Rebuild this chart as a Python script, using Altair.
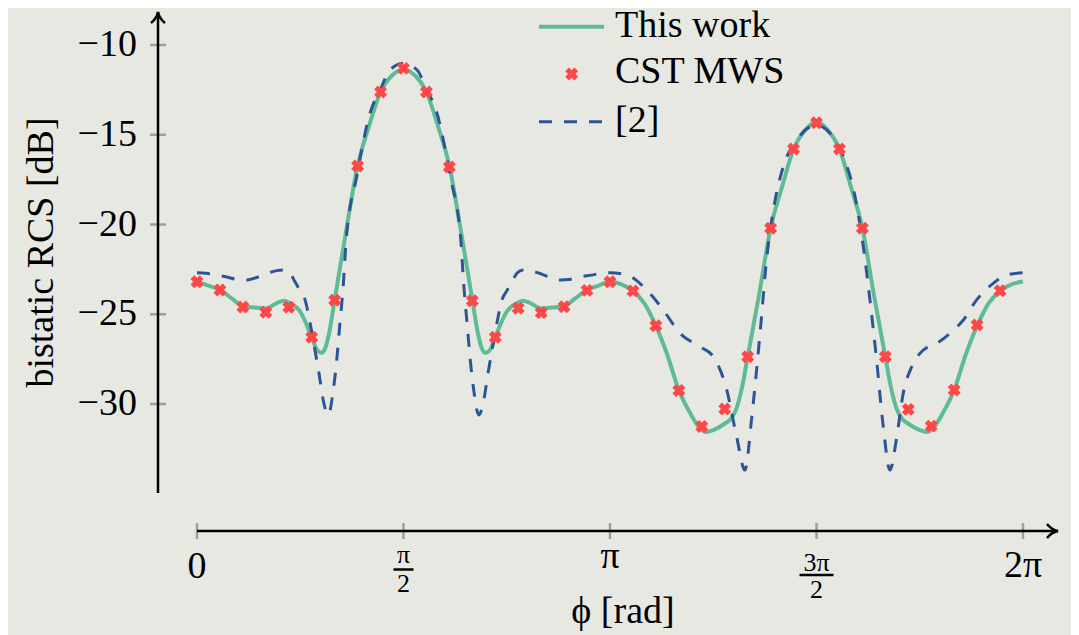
import numpy as np
import pandas as pd
import altair as alt

SERIES = ["This work", "CST MWS", "[2]"]

# "This work" (solid green curve)
WORK_DEG = [0, 5, 10, 15, 20, 25, 30, 35, 38, 40, 45, 50, 52, 54.3, 56, 57.5, 60, 65, 70, 75, 80, 85, 90,
            95, 100, 105, 110, 115, 120, 122.5, 124, 125.7, 128, 130, 135, 140, 142, 145, 150, 155, 160, 165, 170, 175, 180,
            185, 190, 195, 200, 205, 210, 215, 220, 222, 225, 230, 232.5, 235, 237.5, 240, 245, 250, 255, 260, 265, 270,
            275, 280, 285, 290, 295, 300, 302.5, 305, 307.5, 310, 315, 318, 320, 325, 330, 335, 340, 345, 350, 355, 360]
WORK_DB = [-23.18, -23.40, -23.65, -24.10, -24.55, -24.62, -24.67, -24.36, -24.25, -24.35, -24.86, -26.27, -26.92, -27.15, -26.85, -26.10, -24.20, -20.35, -16.74, -14.50, -12.62, -11.70, -11.36,
           -11.70, -12.62, -14.50, -16.74, -20.35, -24.20, -26.10, -26.85, -27.15, -26.92, -26.27, -24.86, -24.35, -24.25, -24.36, -24.67, -24.62, -24.55, -24.10, -23.65, -23.40, -23.18,
           -23.33, -23.70, -24.39, -25.65, -27.27, -29.22, -30.52, -31.45, -31.56, -31.45, -31.10, -30.85, -30.30, -29.10, -27.38, -23.90, -20.20, -17.90, -15.80, -14.75, -14.27,
           -14.75, -15.80, -17.90, -20.20, -23.90, -27.38, -29.10, -30.30, -30.85, -31.10, -31.45, -31.56, -31.45, -30.52, -29.22, -27.27, -25.65, -24.39, -23.70, -23.33, -23.18]

# "CST MWS" (red crosses)
CST_DEG = [0, 10, 20, 30, 40, 50, 60, 70, 80, 90, 100, 110, 120, 130, 140, 150, 160, 170,
           180, 190, 200, 210, 220, 230, 240, 250, 260, 270, 280, 290, 300, 310, 320, 330, 340, 350]
CST_DB = [-23.19, -23.65, -24.60, -24.89, -24.61, -26.28, -24.22, -16.74, -12.62, -11.30, -12.62, -16.80, -24.25, -26.28, -24.67, -24.91, -24.58, -23.67,
          -23.19, -23.70, -25.64, -29.25, -31.25, -30.28, -27.37, -20.21, -15.79, -14.33, -15.79, -20.21, -27.37, -30.30, -31.23, -29.22, -25.60, -23.69]

# "[2]" (dashed blue curve)
REF_DEG = [0, 4, 8, 13, 17, 21.7, 26, 30, 34.7, 38, 40.5, 42.7, 45, 47.1, 49.3, 51.4, 53.3, 55, 57.2, 59.4, 60.9, 62.3, 63.8, 65, 69.6, 75.4, 80, 84.1, 90,
           95.9, 100, 104.6, 110.4, 115, 116.2, 117.7, 119.1, 120.6, 122.8, 125, 126.7, 128.6, 130.7, 132.9, 135, 137.3, 139.5, 142, 145.3, 150, 154, 158.3, 163, 167, 172, 176, 180,
           187.3, 196, 203.2, 210.5, 219.2, 225, 230.9, 235.2, 238.8, 241.8, 245.4, 248.3, 251.2, 255.5, 261.4, 267.2, 270,
           275.9, 281.7, 286.8, 290.4, 293.3, 296.2, 299.1, 302, 305, 307.8, 311.5, 316.6, 322.4, 328.2, 334, 339.8, 347, 352.9, 360]
REF_DB = [-22.69, -22.72, -22.82, -22.92, -23.05, -23.09, -22.95, -22.75, -22.57, -22.53, -22.70, -23.19, -23.70, -24.20, -25.50, -26.99, -28.40, -29.78, -30.61, -29.22, -27.55, -25.50, -23.28, -20.90, -17.34, -13.80, -12.45, -11.39, -11.02,
          -11.39, -12.45, -13.80, -17.34, -20.90, -23.28, -25.50, -27.55, -29.22, -30.61, -29.78, -28.40, -26.99, -25.50, -24.20, -23.70, -23.19, -22.70, -22.53, -22.57, -22.75, -22.95, -23.09, -23.05, -22.92, -22.82, -22.72, -22.69,
          -22.81, -23.65, -24.76, -26.06, -26.81, -27.36, -29.22, -31.82, -33.68, -30.71, -26.06, -21.90, -19.19, -16.78, -15.29, -14.55, -14.46,
          -14.92, -16.22, -18.45, -21.24, -24.20, -27.55, -31.26, -33.68, -31.82, -29.40, -27.92, -26.99, -26.62, -26.06, -25.32, -24.20, -23.28, -22.81, -22.69]

Y_TICKS = [-30, -25, -20, -15, -10]
X_TICKS = [0, np.pi / 2, np.pi, 3 * np.pi / 2, 2 * np.pi]
X_LABEL_MAIN = ["0", "π", "2π"]
X_LABEL_FRAC_NUM = ["π", "3π"]
X_LABEL_FRAC_DEN = ["2", "2"]
X_TITLE = "ϕ [rad]"
Y_TITLE = "bistatic RCS [dB]"

GREEN = "#5fbb96"
RED = "#ff4747"
BLUE = "#2d5596"
BG = "#e8e8e3"
TICK = "#9e9e9e"
FONT = "Liberation Serif"
FS = 38
FS_SMALL = 26

W, H = 900, 519
xs = alt.Scale(domain=[-0.29667, 6.5495], nice=False, zero=False)
ys = alt.Scale(domain=[-37.075, -8.1616], nice=False, zero=False)

work = pd.DataFrame({"phi": np.deg2rad(WORK_DEG), "rcs": WORK_DB})
cst = pd.DataFrame({"phi": np.deg2rad(CST_DEG), "rcs": CST_DB})
ref = pd.DataFrame({"phi": np.deg2rad(REF_DEG), "rcs": REF_DB})
yt = pd.DataFrame({"rcs": Y_TICKS, "label": ["\u2212" + str(abs(v)) for v in Y_TICKS]})
xt = pd.DataFrame({"phi": X_TICKS})
one = pd.DataFrame({"k": [0]})

X = lambda f="phi": alt.X(f + ":Q", scale=xs, axis=None)
Y = lambda f="rcs": alt.Y(f + ":Q", scale=ys, axis=None)

green = alt.Chart(work).mark_line(color=GREEN, strokeWidth=4, interpolate="monotone").encode(x=X(), y=Y())
dashed = alt.Chart(ref).mark_line(color=BLUE, strokeWidth=3, strokeDash=[13, 12], interpolate="monotone").encode(x=X(), y=Y())
marks = alt.Chart(cst).mark_point(shape="cross", angle=45, filled=True, color=RED, size=170, opacity=1).encode(x=X(), y=Y())

# axis ticks (crossing the axis lines)
xticks = alt.Chart(xt).mark_rule(color=TICK, strokeWidth=2.5).encode(x=X(), y=alt.value(511), y2=alt.value(527))
yticks = alt.Chart(yt).mark_rule(color=TICK, strokeWidth=2.5).encode(y=Y(), x=alt.value(-8), x2=alt.value(8))
ylabels = alt.Chart(yt).mark_text(font=FONT, fontSize=FS, color="black", align="right", baseline="middle").encode(
    y=Y(), x=alt.value(-21), text="label:N")

base = alt.Chart(one)
yline = base.mark_rule(color="black", strokeWidth=2.5).encode(x=alt.value(0), y=alt.value(0), y2=alt.value(481))
xline = base.mark_rule(color="black", strokeWidth=2.5).encode(x=alt.datum(0), x2=alt.value(898), y=alt.value(519))
ARROW = "M-1,-1.27 Q-0.2,-0.25 1,0 Q-0.2,0.25 -1,1.27"
xarrow = base.mark_point(shape=ARROW, size=121, filled=False, color="black", strokeWidth=2.5, opacity=1).encode(
    x=alt.value(894.5), y=alt.value(519))
yarrow = base.mark_point(shape=ARROW, size=121, angle=270, filled=False, color="black", strokeWidth=2.5, opacity=1).encode(
    x=alt.value(0), y=alt.value(5.5))

def txt(t, size=FS, **kw):
    return base.mark_text(text=t, font=FONT, fontSize=size, color="black", baseline="alphabetic", **kw)

lab0 = txt(X_LABEL_MAIN[0], align="center").encode(x=alt.datum(X_TICKS[0]), y=alt.value(566))
lab_pi = txt(X_LABEL_MAIN[1], align="center").encode(x=alt.datum(X_TICKS[2]), y=alt.value(556))
lab_2pi = txt(X_LABEL_MAIN[2], align="center").encode(x=alt.datum(X_TICKS[4]), y=alt.value(565))
num1 = txt(X_LABEL_FRAC_NUM[0], FS_SMALL, align="center").encode(x=alt.datum(X_TICKS[1]), y=alt.value(551))
den1 = txt(X_LABEL_FRAC_DEN[0], FS_SMALL, align="center").encode(x=alt.datum(X_TICKS[1]), y=alt.value(579.7))
bar1 = base.mark_tick(orient="horizontal", size=20, thickness=2.5, color="black", opacity=1).encode(
    x=alt.datum(X_TICKS[1]), y=alt.value(557.5))
num3 = txt(X_LABEL_FRAC_NUM[1], FS_SMALL, align="center").encode(x=alt.datum(X_TICKS[3]), y=alt.value(558.7))
den3 = txt(X_LABEL_FRAC_DEN[1], FS_SMALL, align="center").encode(x=alt.datum(X_TICKS[3]), y=alt.value(586.3))
bar3 = base.mark_tick(orient="horizontal", size=34, thickness=2.5, color="black", opacity=1).encode(
    x=alt.datum(X_TICKS[3]), y=alt.value(563))

xtitle = txt(X_TITLE, align="center").encode(x=alt.value(465), y=alt.value(611))
ytitle = txt(Y_TITLE, align="center", angle=270).encode(x=alt.value(-105.3), y=alt.value(240.5))

leg_line = base.mark_rule(color=GREEN, strokeWidth=4).encode(x=alt.value(381), x2=alt.value(446), y=alt.value(14.7))
leg_mark = base.mark_point(shape="cross", angle=45, filled=True, color=RED, size=170, opacity=1).encode(
    x=alt.value(413.7), y=alt.value(62))
leg_dash = base.mark_rule(color=BLUE, strokeWidth=3, strokeDash=[13, 12]).encode(x=alt.value(381), x2=alt.value(446), y=alt.value(109.7))
leg_t1 = txt(SERIES[0], align="left").encode(x=alt.value(457), y=alt.value(25))
leg_t2 = txt(SERIES[1], align="left").encode(x=alt.value(457), y=alt.value(71.3))
leg_t3 = txt(SERIES[2], align="left").encode(x=alt.value(457), y=alt.value(119.7))

chart = alt.layer(
    xticks, yticks, ylabels, green, dashed, marks, yline, xline, xarrow, yarrow,
    lab0, lab_pi, lab_2pi, num1, den1, bar1, num3, den3, bar3, xtitle, ytitle,
    leg_line, leg_mark, leg_dash, leg_t1, leg_t2, leg_t3,
).properties(
    width=W, height=H,
    padding={"left": 150, "top": 4, "right": 13, "bottom": 104},
    autosize=alt.AutoSizeParams(type="none"),
).configure(background=BG).configure_view(stroke=None)

chart.save("out.html", embed_options={"renderer": "svg", "actions": False})
